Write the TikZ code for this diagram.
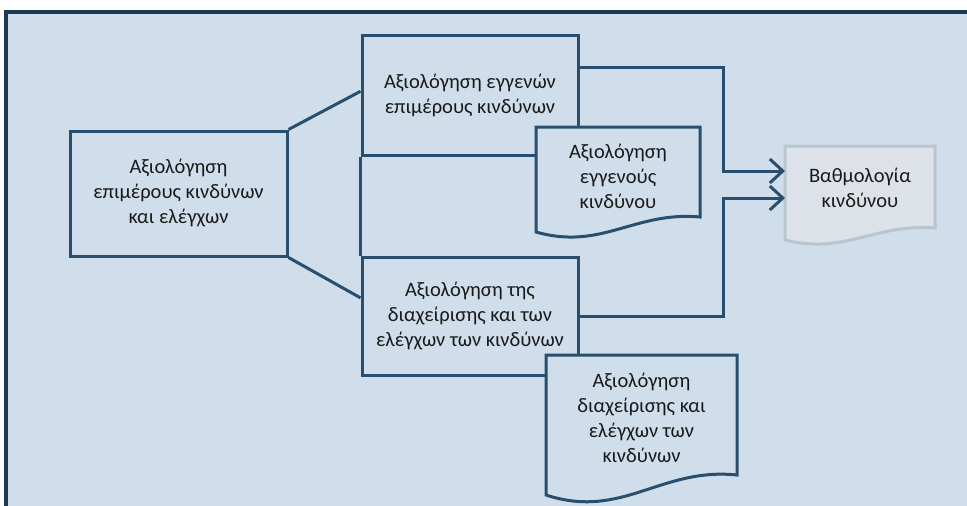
\documentclass[tikz,border=0pt]{standalone}
\usepackage{fontspec}
\setmainfont{Carlito}
\usetikzlibrary{arrows.meta,calc}
\definecolor{bgblue}{HTML}{CFDEEA}
\definecolor{framec}{HTML}{1E3A52}
\definecolor{linec}{HTML}{2A4F6E}
\definecolor{resfill}{HTML}{DCE2E7}
\definecolor{resline}{HTML}{B9C6CF}
\definecolor{txtc}{HTML}{1A1A1A}
\tikzset{
  txt/.style={align=center, inner sep=0pt, font=\fontsize{20.5}{25}\selectfont, text=txtc},
  box/.style={txt, draw=linec, line width=3pt, fill=bgblue},
  docstyle/.style={draw=linec, line width=3pt, fill=bgblue},
  resstyle/.style={draw=resline, line width=3pt, fill=resfill},
  conn/.style={draw=linec, line width=3pt},
  arr/.style={conn, -{Straight Barb[length=13pt,width=24pt]}}
}
\newcommand\wavedoc[4]{% nw, se, amplitude, style
  \path[#4] let \p1=(#1), \p2=(#2) in
    (\p1) -- (\x2,\y1) -- (\p2)
    .. controls ({\x1+0.6*(\x2-\x1)},{\y2+0.4*#3*1pt}) and ({\x1+0.4*(\x2-\x1)},{\y2-2.25*#3*1pt}) ..
    (\x1,{\y2-#3*1pt}) -- cycle;
}
\begin{document}
\begin{tikzpicture}[x=1pt,y=-1pt]
\useasboundingbox (0,0) rectangle (967,506);
\clip (0,0) rectangle (967,506);
\fill[bgblue] (6,12) rectangle (1000,540);
\draw[framec, line width=3.5pt] (6,540) -- (6,12) -- (1000,12);

% boxes
\node[box, minimum width=217pt, minimum height=125pt] (L) at (178.5,193.5)
  {Αξιολόγηση\\επιμέρους κινδύνων\\και ελέγχων};
\node[box, minimum width=216pt, minimum height=120pt] (T) at (470,95)
  {Αξιολόγηση εγγενών\\επιμέρους κινδύνων};
\node[box, minimum width=216pt, minimum height=118pt] (B) at (470,316)
  {Αξιολόγηση της\\διαχείρισης και των\\ελέγχων των κινδύνων};

% document 1
\coordinate (d1nw) at (536,127);
\coordinate (d1se) at (700,217);
\wavedoc{d1nw}{d1se}{15}{docstyle}
\node[txt] (D1) at (618,176) {Αξιολόγηση\\εγγενούς\\κινδύνου};

% document 2
\coordinate (d2nw) at (546,355);
\coordinate (d2se) at (737,475);
\wavedoc{d2nw}{d2se}{20}{docstyle}
\node[txt] (D2) at (641.5,418) {Αξιολόγηση\\διαχείρισης και\\ελέγχων των\\κινδύνων};

% result document
\coordinate (rnw) at (785,146);
\coordinate (rse) at (935,228);
\wavedoc{rnw}{rse}{12}{resstyle}
\node[txt, minimum width=150pt, minimum height=82pt] (R) at (860,188) {Βαθμολογία\\κινδύνου};

% connectors
\draw[conn] (L.north east) -- ($(T.north west)!0.47!(T.south west)$);
\draw[conn] (L.south east) -- ($(B.north west)!0.35!(B.south west)$);
\draw[conn] (T.south west) -- (B.north west);

\coordinate (j) at (723,0);
\coordinate (t1) at ($(T.north east)!0.275!(T.south east)$);
\coordinate (r1) at (785,171);
\coordinate (r2) at (785,198);
\draw[arr] (t1) -- (t1 -| j) -- (r1 -| j) -- (r1);
\draw[arr] (B.east) -- (B.east -| j) -- (r2 -| j) -- (r2);
\end{tikzpicture}
\end{document}
